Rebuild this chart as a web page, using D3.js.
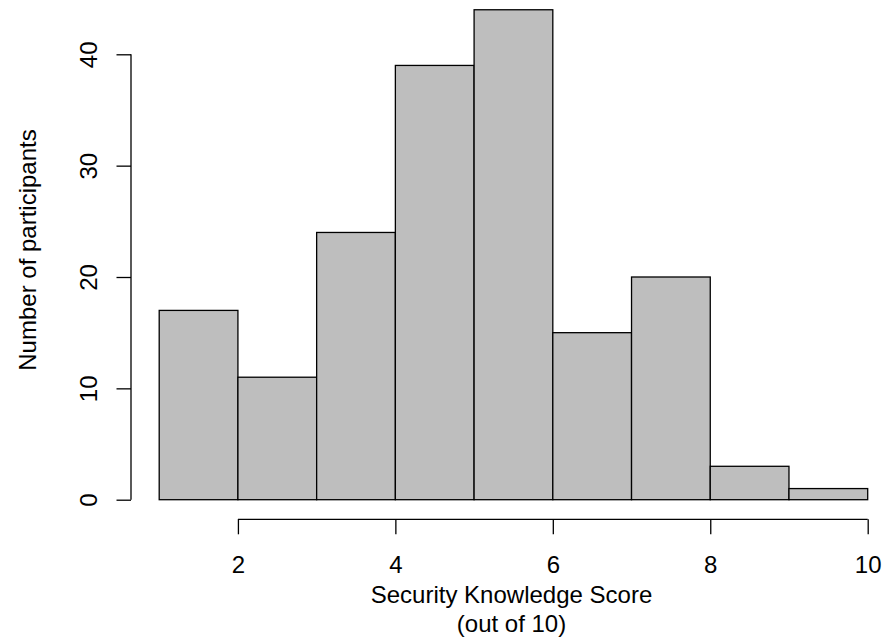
<!DOCTYPE html>
<html>
<head>
<meta charset="utf-8">
<script src="https://cdn.jsdelivr.net/npm/d3@7"></script>
<style>
  body { margin: 0; background: #fff; }
  svg { display: block; font-family: "Liberation Sans", Arial, sans-serif; }
</style>
</head>
<body>
<div id="chart"></div>
<script>
// histogram bins (score intervals) and participant counts
var binStarts = [1, 2, 3, 4, 5, 6, 7, 8, 9];
var binEnds = [2, 3, 4, 5, 6, 7, 8, 9, 10];
var counts = [17, 11, 24, 39, 44, 15, 20, 3, 1];
var xTicks = [2, 4, 6, 8, 10];
var yTicks = [0, 10, 20, 30, 40];
var xLabelLines = ["Security Knowledge Score", "(out of 10)"];
var yLabel = "Number of participants";

var svgWidth = 888;
var svgHeight = 637;
var fontSize = 24;

var svg = d3.select("#chart")
  .append("svg")
  .attr("width", svgWidth)
  .attr("height", svgHeight);

// scales (pixel ranges)
var xScale = d3.scaleLinear().domain([1, 10]).range([159.2, 867.7]);
var yScale = d3.scaleLinear().domain([0, 40]).range([499.7, 54.3]);

var axisY = 519.3;   // x axis line position
var axisX = 131;     // y axis line position

var bins = binStarts.map((b, i) => ({ x0: b, x1: binEnds[i], n: counts[i] }));

// bars
svg.append("g")
  .selectAll("rect")
  .data(bins)
  .enter()
  .append("rect")
  .attr("x", d => xScale(d.x0))
  .attr("y", d => yScale(d.n))
  .attr("width", d => xScale(d.x1) - xScale(d.x0))
  .attr("height", d => yScale(0) - yScale(d.n))
  .attr("fill", "#bebebe")
  .attr("stroke", "#000")
  .attr("stroke-width", 1.3);

// x axis
var xAxis = d3.axisBottom(xScale)
  .tickValues(xTicks)
  .tickSize(15)
  .tickSizeOuter(0);

var gx = svg.append("g")
  .attr("transform", `translate(0, ${axisY})`)
  .call(xAxis);
gx.select(".domain").remove();
gx.append("line")
  .attr("x1", xScale(d3.min(xTicks)))
  .attr("x2", xScale(d3.max(xTicks)))
  .attr("stroke", "#000");
gx.selectAll("line").attr("stroke", "#000").attr("stroke-width", 1.3);
gx.selectAll("text")
  .attr("y", 573.5 - axisY)
  .attr("dy", null)
  .attr("fill", "#000")
  .style("font-size", fontSize + "px")
  .style("font-family", "Liberation Sans, Arial, sans-serif");

// y axis
var yAxis = d3.axisLeft(yScale)
  .tickValues(yTicks)
  .tickSize(14.5)
  .tickSizeOuter(0);

var gy = svg.append("g")
  .attr("transform", `translate(${axisX}, 0)`)
  .call(yAxis);
gy.select(".domain").remove();
gy.append("line")
  .attr("y1", yScale(d3.min(yTicks)))
  .attr("y2", yScale(d3.max(yTicks)))
  .attr("stroke", "#000");
gy.selectAll("line").attr("stroke", "#000").attr("stroke-width", 1.3);
gy.selectAll("text")
  .attr("x", null)
  .attr("dy", null)
  .attr("transform", `translate(${96.7 - axisX}, 0) rotate(-90)`)
  .attr("text-anchor", "middle")
  .attr("fill", "#000")
  .style("font-size", fontSize + "px")
  .style("font-family", "Liberation Sans, Arial, sans-serif");

// axis titles
svg.append("g")
  .selectAll("text")
  .data(xLabelLines)
  .enter()
  .append("text")
  .attr("x", 511.5)
  .attr("y", (d, i) => 603.3 + i * 28.4)
  .attr("text-anchor", "middle")
  .style("font-size", fontSize + "px")
  .text(d => d);

svg.append("text")
  .attr("transform", "translate(36, 250) rotate(-90)")
  .attr("text-anchor", "middle")
  .style("font-size", fontSize + "px")
  .text(yLabel);
</script>
</body>
</html>
